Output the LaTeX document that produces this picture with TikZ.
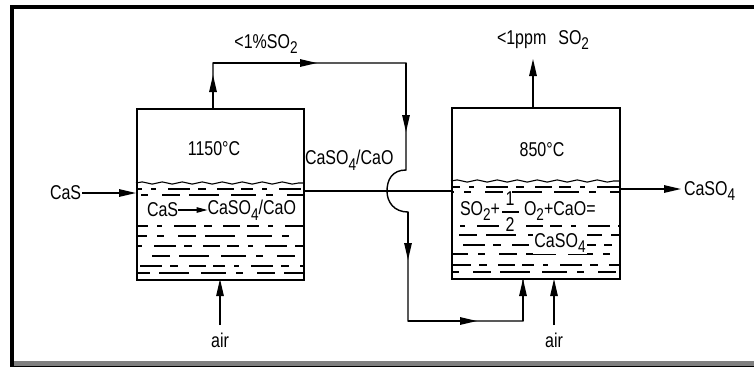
\documentclass[tikz,border=0pt]{standalone}
\usepackage{fontspec}
\setmainfont[FakeStretch=0.8]{Liberation Sans}
\usetikzlibrary{arrows.meta,decorations.pathmorphing,calc}
\newcommand{\lowsub}[1]{\raisebox{-0.28em}{\fontsize{17}{17}\selectfont #1}}
\tikzset{
  tank/.style={draw,line width=1.7pt,minimum width=#1,minimum height=171pt,inner sep=0pt,anchor=north west},
  pipe/.style={line width=1.4pt,line join=miter},
  thin pipe/.style={line width=1.1pt},
  flow/.style={-{Stealth[length=17pt,width=7.5pt,inset=0pt]}},
  lbl/.style={inner sep=0pt,outer sep=0pt,font=\fontsize{20}{21}\selectfont},
  cleared/.style={lbl,fill=white,inner sep=1pt},
  wave/.style={line width=1.1pt,decorate,decoration={snake,amplitude=1.1pt,segment length=20pt}},
  rowA/.style={line width=1.2pt,dash pattern=on 12pt off 9pt on 5pt off 12pt on 22pt off 8pt on 8pt off 11pt on 17pt off 7pt},
  rowB/.style={line width=1.2pt,dash pattern=on 25pt off 10pt on 7pt off 14pt on 18pt off 9pt on 30pt off 12pt}
}
\begin{document}
\begin{tikzpicture}[x=1pt,y=-1pt]
\useasboundingbox (0,0) rectangle (754,367);
% frame
\fill[black] (10,5) rectangle (754,9);
\fill[black] (10,5) rectangle (14,367);
\fill[black!50] (14,361) rectangle (754,366);
\fill[black] (14,366) rectangle (754,367);
% liquid rows, tank 1
\begin{scope}
\clip (136,180) rectangle (303,279);
\draw[rowA,dash phase=6pt] (136,189) -- (303,189);
\draw[rowB,dash phase=30pt] (136,195) -- (303,195);
\draw[rowA,dash phase=0pt] (136,226) -- (303,226);
\draw[rowB,dash phase=14pt] (136,236) -- (303,236);
\draw[rowA,dash phase=20pt] (136,246) -- (303,246);
\draw[rowB,dash phase=40pt] (136,256) -- (303,256);
\draw[rowA,dash phase=34pt] (136,266) -- (303,266);
\draw[rowB,dash phase=60pt] (136,273) -- (303,273);
\end{scope}
% liquid rows, tank 2
\begin{scope}
\clip (451,178) rectangle (619,278);
\draw[rowA,dash phase=3pt] (451,187) -- (619,187);
\draw[rowB,dash phase=22pt] (451,192) -- (619,192);
\draw[rowA,dash phase=12pt] (451,226) -- (619,226);
\draw[rowB,dash phase=48pt] (451,235) -- (619,235);
\draw[rowA,dash phase=26pt] (451,245) -- (619,245);
\draw[rowB,dash phase=8pt] (451,254) -- (619,254);
\draw[rowA,dash phase=40pt] (451,265) -- (619,265);
\draw[rowB,dash phase=34pt] (451,272) -- (619,272);
\end{scope}
\draw[wave] (136,183) -- (303,183);
\draw[wave] (451,181) -- (619,181);
% tanks
\node[tank=167pt] (T1) at (136,108) {};
\node[tank=168pt] (T2) at (451,107) {};
% labels
\node[lbl] (t1) at (214,149) {1150°C};
\node[lbl] (t2) at (542,150) {850°C};
\node[lbl,anchor=west] (cas) at (50,193) {CaS};
\node[lbl,anchor=west] (caso) at (684,191) {CaSO\lowsub{4}};
\node[lbl,anchor=west] (mix) at (305,160) {CaSO\lowsub{4}/CaO};
\node[lbl] (lowa) at (266,44) {<1\%SO\lowsub{2}};
\node[lbl,anchor=west] (lowb) at (497,40) {<1ppm\hspace{12pt}SO\lowsub{2}};
\node[lbl] (air1) at (220,340) {air};
\node[lbl] (air2) at (554,340) {air};
\node[lbl,anchor=west] (ra) at (147,210) {CaS};
\node[lbl,anchor=east] (rb) at (296,210) {CaSO\lowsub{4}/CaO};
\node[lbl,anchor=west] (sa) at (460,211) {SO\lowsub{2}+};
\node[lbl] (one) at (510,199) {1};
\node[cleared] (two) at (510,225) {2};
\node[lbl,anchor=west] (sb) at (524,211) {O\lowsub{2}+CaO=};
\node[cleared] (sc) at (560,243) {CaSO\lowsub{4}};
% fraction bar and reaction arrow
\draw[thin pipe] (502,212) -- (519,212);
\draw[thin pipe,-{Stealth[length=11pt,width=5.5pt,inset=0pt]}] (ra) -- (rb);
% coordinates
\coordinate (upA) at (213,108);
\coordinate (upB) at (213,63);
\coordinate (topR) at (406,63);
\coordinate (midA) at (317,63);
\coordinate (dnA) at (406,132);
\coordinate (hopT) at (406,170);
\coordinate (hopB) at (408,212);
\coordinate (dnB) at (408,260);
\coordinate (botL) at (408,321);
\coordinate (botM) at (477,321);
\coordinate (botR) at (523,321);
\coordinate (botT) at (523,279);
\coordinate (stack) at (533,59);
\coordinate (stackB) at (533,107);
\coordinate (feedL) at (303,191);
\coordinate (feedR) at (451,191);
\coordinate (outL) at (619,189);
\coordinate (outR) at (681,189);
\coordinate (inL) at (82,193);
\coordinate (inR) at (136,193);
\coordinate (airA) at (220,325);
\coordinate (airAT) at (220,279);
\coordinate (airB) at (554,325);
\coordinate (airBT) at (554,279);
\coordinate (upM) at (213,75);
% connectors
\draw[pipe,flow] (inL) -- (inR);
\draw[pipe,flow] (outL) -- (outR);
\draw[pipe] (feedL) -- (feedR);
\draw[pipe] (upA) -- (upB) -- (topR) -- (hopT) .. controls (392,170) and (387,180) .. (387,191) .. controls (387,202) and (394,212) .. (hopB) -- (botL) -- (botR) -- (botT);
\draw[pipe,flow] (upA) -- (upM);
\draw[pipe,flow] (upB) -- (midA);
\draw[pipe,flow] (topR) -- (dnA);
\draw[pipe,flow] (hopB) -- (dnB);
\draw[pipe,flow] (botL) -- (botM);
\draw[pipe,flow] (botR) -- (botT);
\draw[pipe,flow] (stackB) -- (stack);
\draw[thin pipe,flow] (airA) -- (airAT);
\draw[thin pipe,flow] (airB) -- (airBT);
\end{tikzpicture}
\end{document}
